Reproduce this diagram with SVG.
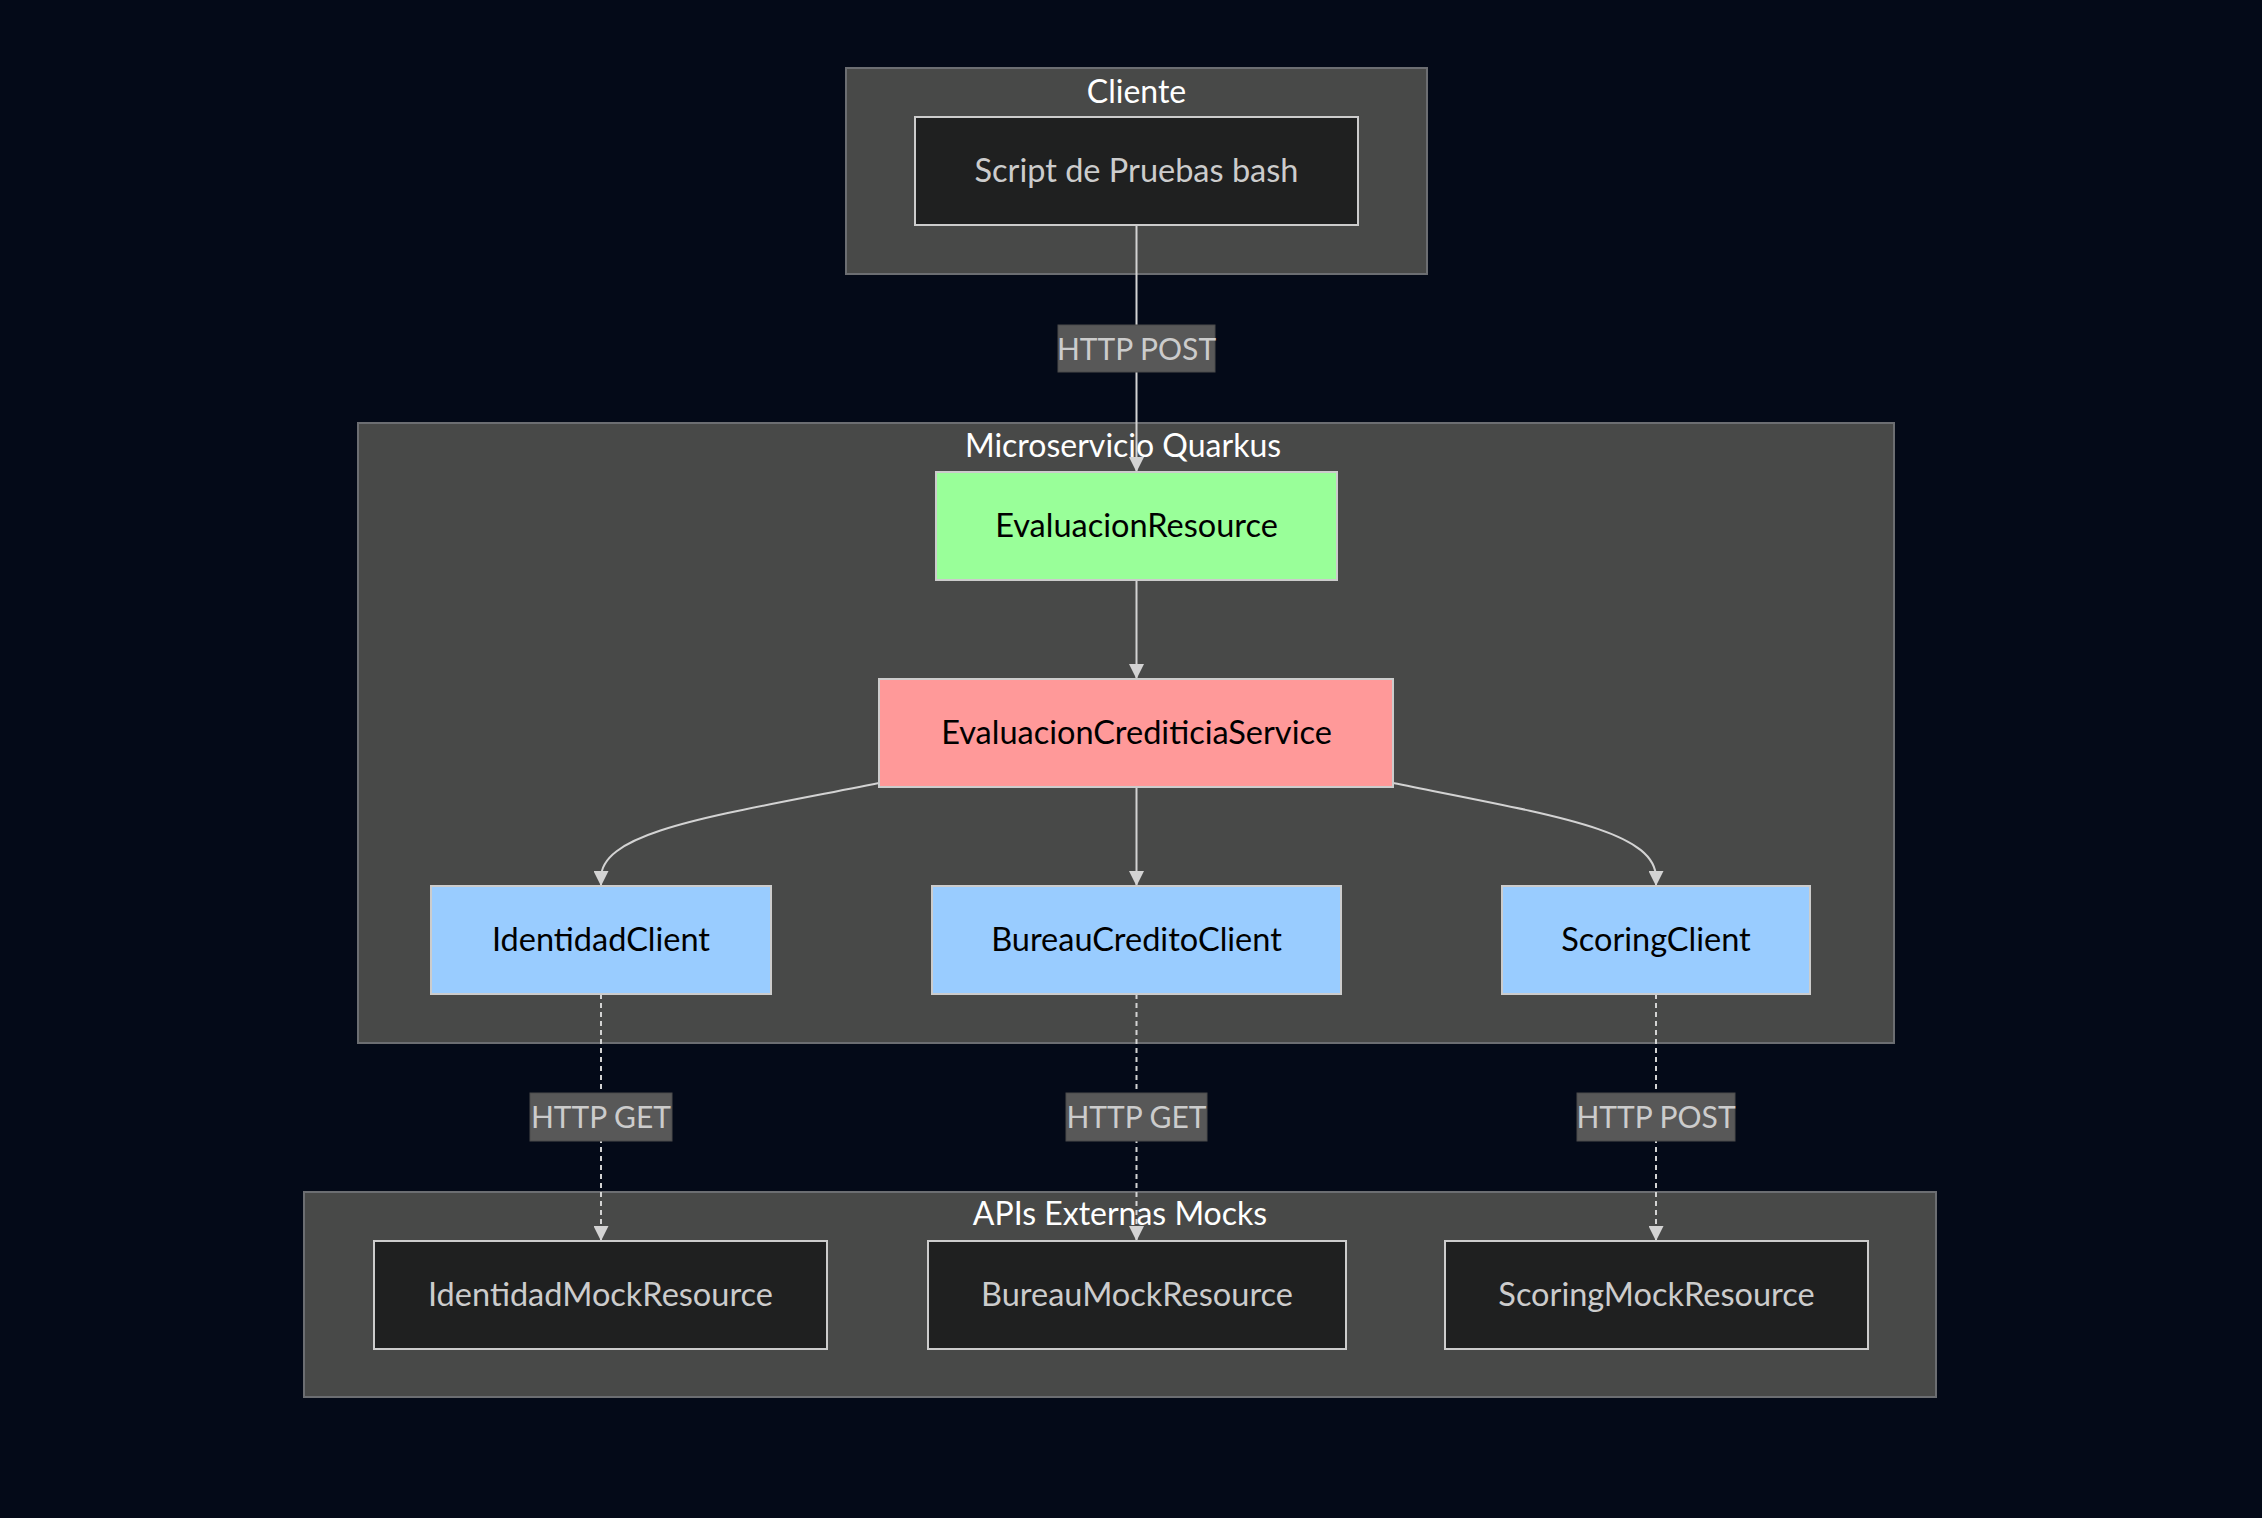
<svg xmlns="http://www.w3.org/2000/svg" width="2262" height="1518" viewBox="0 0 2262 1518">
<style>
.bg{fill:#040a18}
.cluster rect{fill:#484948;stroke:#6c6e72;stroke-width:2}
.ctitle{font-family:Lato,"Liberation Sans",sans-serif;font-size:32px;fill:#ffffff;text-anchor:middle}
.node rect{stroke:#cccccc;stroke-width:2}
.dark rect{fill:#1f2020}
.dark text{fill:#cccccc}
.ntext{font-family:Lato,"Liberation Sans",sans-serif;font-size:32.5px;text-anchor:middle;dominant-baseline:central}
.green rect{fill:#99ff99}
.red rect{fill:#ff9999}
.blue rect{fill:#99ccff}
.light text{fill:#000000}
.edge{fill:none;stroke:#d3d3d3;stroke-width:2}
.dotted{stroke-dasharray:5 4}
.elabel rect{fill:#585858;stroke:#4a4a4a;stroke-width:1}
.elabel text{font-family:Lato,"Liberation Sans",sans-serif;font-size:30px;fill:#cccccc;text-anchor:middle;dominant-baseline:central}
</style>
<defs>
<marker id="arrow" viewBox="0 0 10 10" refX="10" refY="5" markerUnits="userSpaceOnUse" markerWidth="15" markerHeight="15" orient="auto">
<path d="M0,0 L10,5 L0,10 z" fill="#d3d3d3"/>
</marker>
</defs>
<rect class="bg" x="0" y="0" width="2262" height="1518"/>

<g id="cluster-cliente" class="cluster">
<rect x="846" y="68" width="581" height="206"/>
<text class="ctitle" x="1136.5" y="103">Cliente</text>
</g>
<g id="cluster-quarkus" class="cluster">
<rect x="358" y="423" width="1536" height="620"/>
<text class="ctitle" x="1123" y="457">Microservicio Quarkus</text>
</g>
<g id="cluster-mocks" class="cluster">
<rect x="304" y="1192" width="1632" height="205"/>
<text class="ctitle" x="1120" y="1225">APIs Externas Mocks</text>
</g>

<g id="connectors">
<path class="edge" d="M1136.5,225 L1136.5,472" marker-end="url(#arrow)"/>
<path class="edge" d="M1136.5,580 L1136.5,679" marker-end="url(#arrow)"/>
<path class="edge" d="M879,783 C720,815 601,830 601,878 L601,886" marker-end="url(#arrow)"/>
<path class="edge" d="M1136.5,787 L1136.5,886" marker-end="url(#arrow)"/>
<path class="edge" d="M1393,783 C1552,815 1656,830 1656,878 L1656,886" marker-end="url(#arrow)"/>
<path class="edge dotted" d="M601,994 L601,1241" marker-end="url(#arrow)"/>
<path class="edge dotted" d="M1136.5,994 L1136.5,1241" marker-end="url(#arrow)"/>
<path class="edge dotted" d="M1656,994 L1656,1241" marker-end="url(#arrow)"/>
<g class="elabel"><rect x="1058" y="325" width="157" height="47"/><text x="1136.5" y="347.5">HTTP POST</text></g>
<g class="elabel"><rect x="530" y="1093" width="142" height="48"/><text x="601" y="1116">HTTP GET</text></g>
<g class="elabel"><rect x="1066" y="1093" width="141" height="48"/><text x="1136.5" y="1116">HTTP GET</text></g>
<g class="elabel"><rect x="1577" y="1093" width="158" height="48"/><text x="1656" y="1116">HTTP POST</text></g>
</g>

<g id="node-script" class="node dark">
<rect x="915" y="117" width="443" height="108"/>
<text class="ntext" x="1136.5" y="169.5">Script de Pruebas bash</text>
</g>
<g id="node-evaluacionresource" class="node green light">
<rect x="936" y="472" width="401" height="108"/>
<text class="ntext" x="1136.5" y="524.5">EvaluacionResource</text>
</g>
<g id="node-service" class="node red light">
<rect x="879" y="679" width="514" height="108"/>
<text class="ntext" x="1136.5" y="731.5">EvaluacionCrediticiaService</text>
</g>
<g id="node-identidadclient" class="node blue light">
<rect x="431" y="886" width="340" height="108"/>
<text class="ntext" x="601" y="938.5">IdentidadClient</text>
</g>
<g id="node-bureaucreditoclient" class="node blue light">
<rect x="932" y="886" width="409" height="108"/>
<text class="ntext" x="1136.5" y="938.5">BureauCreditoClient</text>
</g>
<g id="node-scoringclient" class="node blue light">
<rect x="1502" y="886" width="308" height="108"/>
<text class="ntext" x="1656" y="938.5">ScoringClient</text>
</g>
<g id="node-identidadmock" class="node dark">
<rect x="374" y="1241" width="453" height="108"/>
<text class="ntext" x="600.5" y="1293.5">IdentidadMockResource</text>
</g>
<g id="node-bureaumock" class="node dark">
<rect x="928" y="1241" width="418" height="108"/>
<text class="ntext" x="1137" y="1293.5">BureauMockResource</text>
</g>
<g id="node-scoringmock" class="node dark">
<rect x="1445" y="1241" width="423" height="108"/>
<text class="ntext" x="1656.5" y="1293.5">ScoringMockResource</text>
</g>
</svg>
